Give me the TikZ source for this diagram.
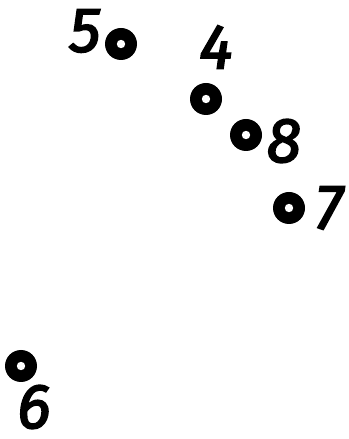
\documentclass[tikz,border=0pt]{standalone}
\usepackage{fontspec}
\newfontfamily\digitfont[FakeBold=2.8]{Fira Sans}
\begin{document}
\begin{tikzpicture}[x=1pt,y=1pt,
  lbl/.style={inner sep=0pt,font=\fontsize{63}{63}\selectfont\digitfont\itshape}]
\useasboundingbox (0,0) rectangle (348,439);
\foreach \n/\px/\py in {d5/121/395, d4/206/340, d8/246/304, d7/289/231, d6/21/73}{
  \coordinate (\n) at (\px,\py);
  \fill[black] (\n) circle [radius=16pt];
  \fill[white] (\n) circle [radius=4.2pt];
}
\node[lbl] (l5) at (85,408) {5};
\node[lbl] (l4) at (216,392) {4};
\node[lbl] (l8) at (284,298) {8};
\node[lbl] (l7) at (329,231) {7};
\node[lbl] (l6) at (34,32) {6};
\end{tikzpicture}
\end{document}
